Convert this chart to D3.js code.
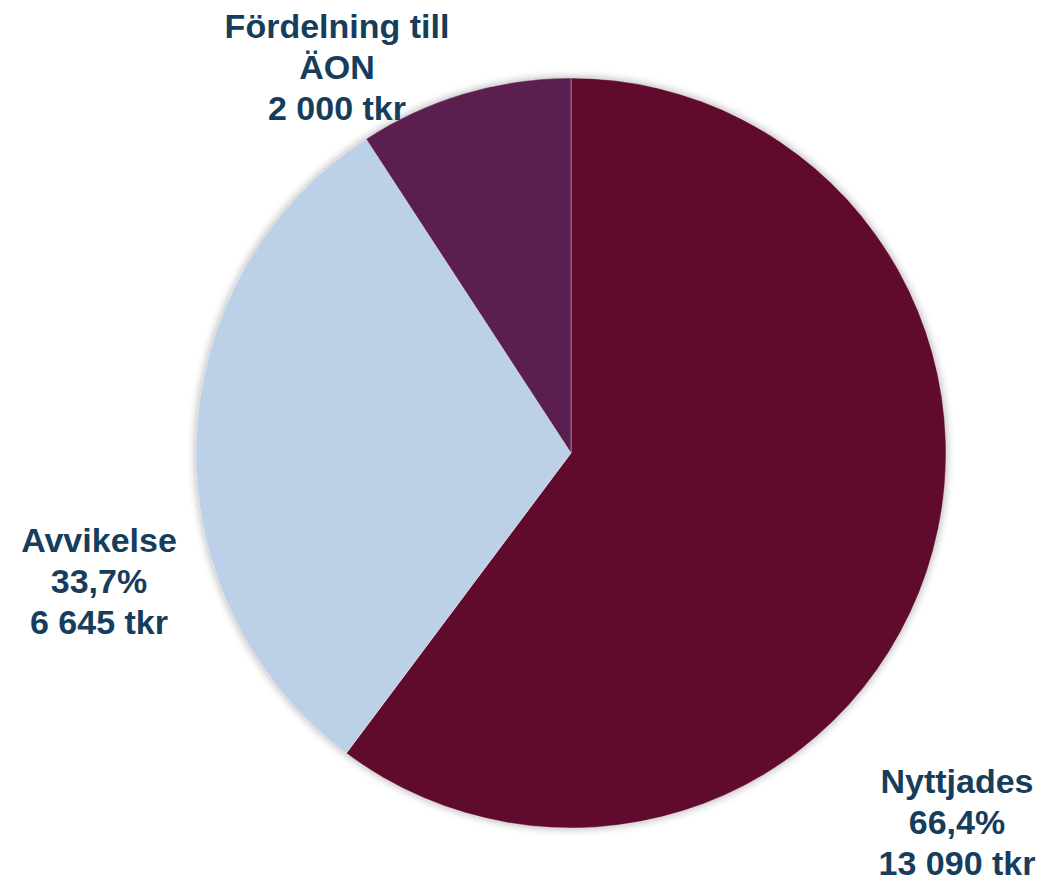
<!DOCTYPE html>
<html>
<head>
<meta charset="utf-8">
<script src="https://cdn.jsdelivr.net/npm/d3@7"></script>
<style>
  body { margin: 0; background: #fff; }
  svg { display: block; }
</style>
</head>
<body>
<svg id="chart" width="1048" height="882"></svg>
<script>
// Data
const categories = ["Nyttjades", "Avvikelse", "Fördelning till ÄON"];
const values = [13090, 6645, 2000];
const percentLabels = ["66,4%", "33,7%", null];
const colors = ["#600b2e", "#bcd0e7", "#5a1f4e"];

// Label lines
const labelLines = [
    ["Nyttjades", "66,4%", "13 090 tkr"],
    ["Avvikelse", "33,7%", "6 645 tkr"],
    ["Fördelning till", "ÄON", "2 000 tkr"]
];
const labelPos = [[957, 793], [99, 552], [337, 38]];

const svg = d3.select("#chart");
const cx = 571, cy = 453, r = 375;

// Soft shadow around the pie
const defs = svg.append("defs");
const filter = defs.append("filter")
    .attr("id", "shadow")
    .attr("x", "-20%").attr("y", "-20%")
    .attr("width", "140%").attr("height", "140%");
filter.append("feGaussianBlur").attr("in", "SourceAlpha").attr("stdDeviation", 5).attr("result", "blur");
filter.append("feComponentTransfer").attr("in", "blur").attr("result", "soft")
    .append("feFuncA").attr("type", "linear").attr("slope", 0.35);
const merge = filter.append("feMerge");
merge.append("feMergeNode").attr("in", "soft");
merge.append("feMergeNode").attr("in", "SourceGraphic");

const pie = d3.pie().sort(null).value(d => d);
const arc = d3.arc().innerRadius(0).outerRadius(r);

const g = svg.append("g").attr("transform", `translate(${cx},${cy})`);

// Shadow disk
g.append("circle")
    .attr("r", r)
    .attr("fill", "#ccc")
    .attr("filter", "url(#shadow)");

g.selectAll(".slice")
    .data(pie(values))
    .enter()
    .append("path")
    .attr("class", "slice")
    .attr("d", arc)
    .attr("fill", (d, i) => colors[i])
    .attr("stroke", "rgba(255,255,255,0.35)")
    .attr("stroke-width", 1);

// Labels
const labels = svg.selectAll(".label")
    .data(labelLines)
    .enter()
    .append("text")
    .attr("class", "label")
    .attr("text-anchor", "middle")
    .attr("font-family", "Liberation Sans, Arial, sans-serif")
    .attr("font-weight", "bold")
    .attr("font-size", 34)
    .attr("fill", "#163d5c");

labels.each(function(lines, i) {
    const t = d3.select(this);
    lines.forEach((line, j) => {
        t.append("tspan")
            .attr("x", labelPos[i][0])
            .attr("y", labelPos[i][1] + j * 41)
            .text(line);
    });
});
</script>
</body>
</html>
